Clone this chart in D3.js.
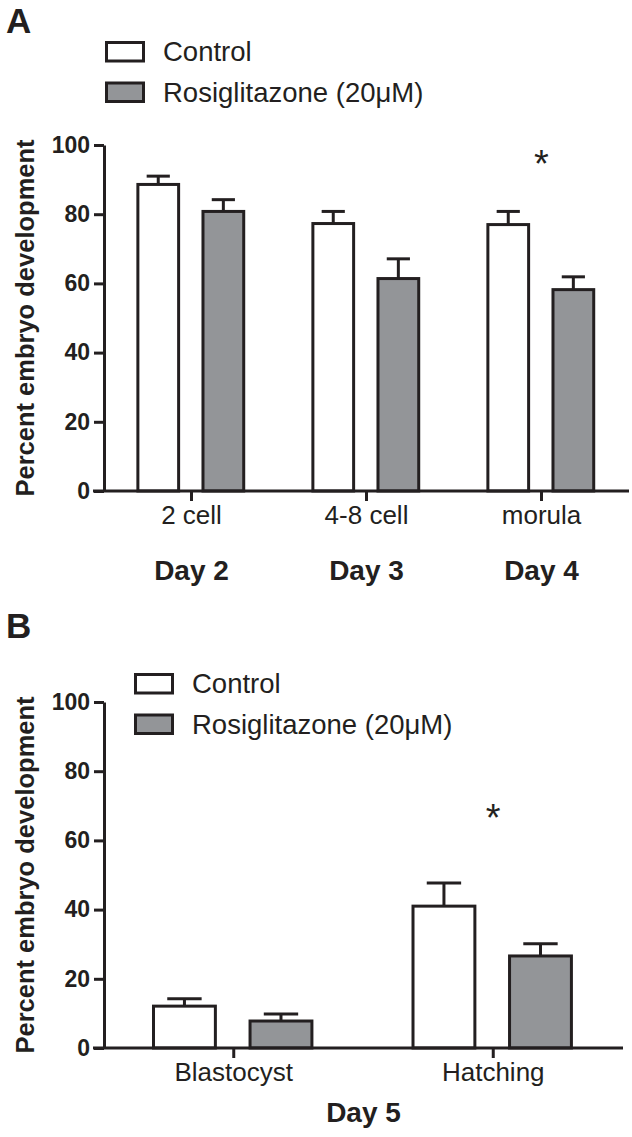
<!DOCTYPE html>
<html>
<head>
<meta charset="utf-8">
<script src="https://cdn.jsdelivr.net/npm/d3@7"></script>
<style>
  html, body { margin: 0; padding: 0; background: #fff; }
  svg { display: block; }
  text { font-family: "Liberation Sans", Arial, Helvetica, sans-serif; fill: #231f20; }
</style>
</head>
<body>
<svg id="chart" width="632" height="1137"></svg>
<script>
// ---------------- DATA ----------------
const seriesNames = ["Control", "Rosiglitazone (20\u03bcM)"];
const seriesFills = ["#ffffff", "#939598"];

const categoriesA = ["2 cell", "4-8 cell", "morula"];
const dayLabelsA  = ["Day 2", "Day 3", "Day 4"];
const controlA    = [88.6, 77.3, 77.0];
const controlErrA = [2.4, 3.5, 3.8];
const rosiA       = [80.8, 61.4, 58.2];
const rosiErrA    = [3.4, 5.7, 3.7];
const signifA     = [{ category: "morula", value: 96.7 }];

const categoriesB = ["Blastocyst", "Hatching"];
const dayLabelB   = "Day 5";
const controlB    = [12.1, 41.0];
const controlErrB = [2.1, 6.7];
const rosiB       = [7.8, 26.6];
const rosiErrB    = [2.0, 3.5];
const signifB     = [{ category: "Hatching", value: 68.8 }];

const yTicks = [0, 20, 40, 60, 80, 100];
const yTitle = "Percent embryo development";

// ---------------- DRAW ----------------
const svg = d3.select("#chart");
const ink = "#231f20";

function panel(opt) {
  const g = svg.append("g");
  const x = d3.scaleBand().domain(opt.categories).range([opt.x0, opt.x1]).padding(0);
  const bw = x.bandwidth();
  const inner = d3.scaleBand().domain([0, 1])
    .range([0.185 * bw, 0.807 * bw]).paddingInner(0.328).paddingOuter(0);
  const y = d3.scaleLinear().domain([0, 100]).range([opt.yBottom, opt.yTop]);

  const rows = [];
  opt.categories.forEach((c, i) => {
    rows.push({ c, s: 0, v: opt.control[i], e: opt.controlErr[i] });
    rows.push({ c, s: 1, v: opt.rosi[i], e: opt.rosiErr[i] });
  });
  const sw = 3;
  const barW = inner.bandwidth();
  const capW = barW * 0.53;

  // error bars
  const eb = g.append("g").attr("stroke", ink).attr("stroke-width", sw).attr("fill", "none");
  rows.forEach(d => {
    const cx = x(d.c) + inner(d.s) + barW / 2;
    eb.append("line").attr("x1", cx).attr("x2", cx).attr("y1", y(d.v)).attr("y2", y(d.v + d.e));
    eb.append("line").attr("x1", cx - capW / 2).attr("x2", cx + capW / 2)
      .attr("y1", y(d.v + d.e)).attr("y2", y(d.v + d.e));
  });

  // bars
  g.append("g").selectAll("rect").data(rows).join("rect")
    .attr("x", d => x(d.c) + inner(d.s) + sw / 2)
    .attr("width", barW - sw)
    .attr("y", d => y(d.v))
    .attr("height", d => y(0) - y(d.v))
    .attr("fill", d => seriesFills[d.s])
    .attr("stroke", ink).attr("stroke-width", sw);

  // y axis
  const ya = g.append("g").attr("transform", `translate(${opt.x0},0)`)
    .call(d3.axisLeft(y).tickValues(yTicks).tickSize(10).tickSizeOuter(0).tickPadding(4));
  ya.select(".domain").attr("stroke", ink).attr("stroke-width", sw);
  ya.selectAll(".tick line").attr("stroke", ink).attr("stroke-width", sw);
  ya.selectAll(".tick text").attr("font-size", 23).attr("font-weight", "bold")
    .attr("font-family", "Liberation Sans, Arial, sans-serif").attr("fill", ink);

  // x axis
  const xa = g.append("g").attr("transform", `translate(0,${opt.yBottom})`)
    .call(d3.axisBottom(x).tickSize(10).tickSizeOuter(0).tickPadding(6));
  xa.select(".domain").attr("stroke", ink).attr("stroke-width", sw)
    .attr("d", `M${opt.x0 - 11},0H${opt.x1}`);
  xa.selectAll(".tick line").attr("stroke", ink).attr("stroke-width", sw);
  xa.selectAll(".tick text").attr("font-size", 26).attr("y", 0).attr("dy", 0)
    .attr("transform", "translate(0,33)")
    .attr("font-family", "Liberation Sans, Arial, sans-serif").attr("fill", ink);

  // y title
  g.append("text")
    .attr("transform", `translate(34,${(opt.yTop + opt.yBottom) / 2}) rotate(-90)`)
    .attr("text-anchor", "middle").attr("font-size", 25.5).attr("font-weight", "bold")
    .text(yTitle);

  // significance
  opt.signif.forEach(s => {
    g.append("text")
      .attr("x", x(s.category) + bw / 2)
      .attr("y", y(s.value) + 21)
      .attr("text-anchor", "middle").attr("font-size", 38)
      .text("*");
  });

  // legend
  const lg = g.append("g");
  seriesNames.forEach((n, i) => {
    lg.append("rect")
      .attr("x", opt.legX + 1.5).attr("y", opt.legY + i * 40.5 + 1.5)
      .attr("width", 37).attr("height", 18.5)
      .attr("fill", seriesFills[i]).attr("stroke", ink).attr("stroke-width", sw);
    lg.append("text")
      .attr("x", opt.legX + 58).attr("y", opt.legY + i * 40.5 + 20)
      .attr("font-size", 27.5).text(n);
  });

  // panel letter
  g.append("text").attr("x", 6).attr("y", opt.letterY)
    .attr("font-size", 35).attr("font-weight", "bold").text(opt.letter);

  return { g, x, bw };
}

const A = panel({
  letter: "A", letterY: 33,
  categories: categoriesA, control: controlA, controlErr: controlErrA,
  rosi: rosiA, rosiErr: rosiErrA, signif: signifA,
  x0: 104, x1: 629, yTop: 145, yBottom: 491,
  legX: 105, legY: 41
});
A.g.append("g").selectAll("text").data(categoriesA).join("text")
  .attr("x", d => A.x(d) + A.bw / 2).attr("y", 580)
  .attr("text-anchor", "middle").attr("font-size", 28).attr("font-weight", "bold")
  .text((d, i) => dayLabelsA[i]);

const B = panel({
  letter: "B", letterY: 638,
  categories: categoriesB, control: controlB, controlErr: controlErrB,
  rosi: rosiB, rosiErr: rosiErrB, signif: signifB,
  x0: 104, x1: 623, yTop: 702, yBottom: 1048,
  legX: 134, legY: 673
});
B.g.append("text")
  .attr("x", (B.x.range()[0] + B.x.range()[1]) / 2).attr("y", 1122)
  .attr("text-anchor", "middle").attr("font-size", 28).attr("font-weight", "bold")
  .text(dayLabelB);
</script>
</body>
</html>
